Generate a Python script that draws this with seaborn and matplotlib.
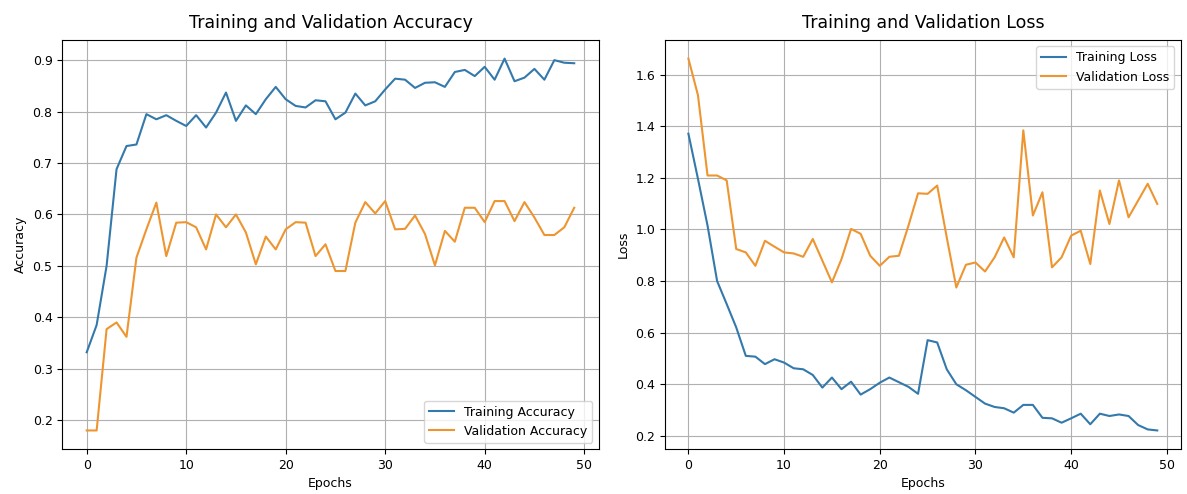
import numpy as np
import pandas as pd
import matplotlib
matplotlib.use("Agg")
import matplotlib.pyplot as plt
import seaborn as sns

epochs = list(range(50))

train_acc = [0.332, 0.385, 0.500, 0.688, 0.733, 0.736, 0.795, 0.785, 0.793, 0.782,
             0.772, 0.793, 0.769, 0.798, 0.837, 0.782, 0.812, 0.795, 0.824, 0.848,
             0.824, 0.811, 0.808, 0.822, 0.820, 0.785, 0.798, 0.835, 0.812, 0.820,
             0.843, 0.864, 0.862, 0.846, 0.856, 0.857, 0.848, 0.877, 0.881, 0.869,
             0.887, 0.862, 0.903, 0.859, 0.866, 0.883, 0.862, 0.900, 0.895, 0.894]

val_acc = [0.180, 0.180, 0.377, 0.390, 0.362, 0.516, 0.571, 0.623, 0.519, 0.584,
           0.585, 0.575, 0.532, 0.600, 0.575, 0.600, 0.565, 0.503, 0.557, 0.532,
           0.571, 0.585, 0.584, 0.519, 0.542, 0.490, 0.490, 0.584, 0.624, 0.602,
           0.626, 0.571, 0.572, 0.598, 0.562, 0.501, 0.568, 0.547, 0.613, 0.613,
           0.585, 0.626, 0.626, 0.587, 0.624, 0.594, 0.560, 0.560, 0.575, 0.613]

train_loss = [1.371, 1.196, 1.015, 0.800, 0.711, 0.620, 0.510, 0.507, 0.478, 0.497,
              0.484, 0.462, 0.458, 0.436, 0.387, 0.426, 0.381, 0.410, 0.360, 0.381,
              0.406, 0.426, 0.408, 0.390, 0.363, 0.571, 0.562, 0.458, 0.400, 0.377,
              0.351, 0.325, 0.312, 0.307, 0.290, 0.320, 0.320, 0.270, 0.268, 0.251,
              0.268, 0.286, 0.245, 0.286, 0.277, 0.283, 0.277, 0.242, 0.225, 0.221]

val_loss = [1.662, 1.520, 1.209, 1.209, 1.190, 0.924, 0.911, 0.859, 0.956, 0.933,
            0.911, 0.907, 0.894, 0.963, 0.879, 0.795, 0.885, 1.002, 0.983, 0.898,
            0.859, 0.894, 0.898, 1.015, 1.140, 1.138, 1.170, 0.969, 0.775, 0.863,
            0.872, 0.837, 0.892, 0.969, 0.892, 1.384, 1.054, 1.144, 0.853, 0.892,
            0.976, 0.995, 0.866, 1.151, 1.021, 1.190, 1.047, 1.112, 1.177, 1.099]

acc_df = pd.DataFrame({"Epochs": epochs * 2,
                       "value": train_acc + val_acc,
                       "series": ["Training Accuracy"] * 50 + ["Validation Accuracy"] * 50})
loss_df = pd.DataFrame({"Epochs": epochs * 2,
                        "value": train_loss + val_loss,
                        "series": ["Training Loss"] * 50 + ["Validation Loss"] * 50})

colors = ["#3479ab", "#ee9530"]

fig = plt.figure(figsize=(11.87, 4.94), dpi=100)
ax1 = fig.add_axes([0.0525, 0.091, 0.4518, 0.828])
ax2 = fig.add_axes([0.5602, 0.091, 0.4345, 0.828])

sns.lineplot(data=acc_df, x="Epochs", y="value", hue="series", palette=colors, ax=ax1, linewidth=1.5)
ax1.set_title("Training and Validation Accuracy", fontsize=12.5, pad=9)
ax1.set_xlabel("Epochs", fontsize=9)
ax1.set_ylabel("Accuracy", fontsize=9)
ax1.grid(True)
ax1.legend(loc="lower right", fontsize=9)

sns.lineplot(data=loss_df, x="Epochs", y="value", hue="series", palette=colors, ax=ax2, linewidth=1.5)
ax2.set_title("Training and Validation Loss", fontsize=12.5, pad=9)
ax2.set_xlabel("Epochs", fontsize=9)
ax2.set_ylabel("Loss", fontsize=9)
ax2.grid(True)
ax2.legend(loc="upper right", fontsize=9)

for ax in (ax1, ax2):
    ax.tick_params(labelsize=9)
    ax.set_xticks([0, 10, 20, 30, 40, 50])

fig.savefig("out.png", dpi=100, facecolor="white")
